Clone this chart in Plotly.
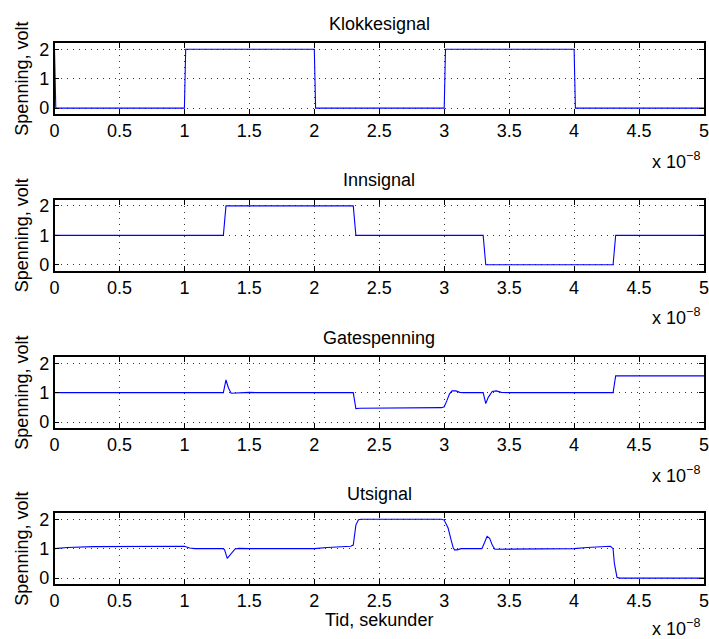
import plotly.graph_objects as go

# time axis in units of 1e-8 s
t_klokke = [0, 0.01, 1.0, 1.01, 2.0, 2.01, 3.0, 3.01, 4.0, 4.01, 5.0]
v_klokke = [2, 0, 0, 2, 2, 0, 0, 2, 2, 0, 0]

t_inn = [0, 1.30, 1.32, 2.30, 2.32, 3.30, 3.32, 4.30, 4.32, 5.0]
v_inn = [1, 1, 2, 2, 1, 1, 0, 0, 1, 1]

t_gate = [0, 1.0, 1.03, 1.07, 1.30, 1.32, 1.34, 1.36, 1.40, 1.45, 1.50, 1.55,
          2.30, 2.32, 2.35, 2.98, 3.00, 3.02, 3.04, 3.06, 3.09, 3.12, 3.15,
          3.30, 3.32, 3.34, 3.37, 3.40, 3.44, 3.50, 4.30, 4.32, 5.0]
v_gate = [1.0, 1.0, 1.02, 1.0, 1.0, 1.43, 1.15, 0.98, 0.99, 1.02, 1.01, 1.0,
          1.0, 0.46, 0.47, 0.49, 0.52, 0.72, 0.95, 1.06, 1.06, 1.01, 1.0,
          1.0, 0.63, 0.85, 1.04, 1.06, 1.01, 1.0, 1.0, 1.57, 1.57]

t_ut = [0, 0.1, 0.3, 0.6, 1.0, 1.04, 1.08, 1.30, 1.31, 1.33, 1.36, 1.39, 1.42, 1.5,
        2.0, 2.1, 2.28, 2.30, 2.32, 2.34, 2.36, 2.98, 3.00, 3.03, 3.05, 3.07, 3.08,
        3.10, 3.13, 3.29, 3.31, 3.33, 3.35, 3.37, 3.39, 3.42, 3.46, 4.0, 4.1, 4.28,
        4.30, 4.31, 4.33, 4.35, 5.0]
v_ut = [1.0, 1.04, 1.07, 1.08, 1.08, 1.02, 1.0, 1.0, 0.95, 0.67, 0.85, 0.99, 1.01, 1.0,
        1.0, 1.04, 1.08, 1.12, 1.8, 1.98, 2.0, 2.0, 1.97, 1.7, 1.35, 1.02, 0.96,
        0.96, 1.0, 1.0, 1.2, 1.42, 1.35, 1.12, 0.98, 0.98, 1.0, 1.0, 1.04, 1.08,
        1.0, 0.5, 0.03, 0.0, 0.0]

titles = ["Klokkesignal", "Innsignal", "Gatespenning", "Utsignal"]
x_ticks = [0, 0.5, 1, 1.5, 2, 2.5, 3, 3.5, 4, 4.5, 5]
y_ticks = [0, 1, 2]
y_label = "Spenning, volt"
x_label = "Tid, sekunder"
x_exp = "x 10<sup>−8</sup>"

series = [(t_klokke, v_klokke), (t_inn, v_inn), (t_gate, v_gate), (t_ut, v_ut)]

W, H = 709, 639
left_px, right_px = 54.5, 704
tops_px = [43.3, 200, 357.3, 513.3]
box_h = 70.7
FONT = "Liberation Sans, Arial, Helvetica, sans-serif"
FS = 18

fig = go.Figure()
annotations = []
for i, (t, v) in enumerate(series):
    sfx = "" if i == 0 else str(i + 1)
    fig.add_trace(go.Scatter(x=t, y=v, mode="lines",
                             line=dict(color="#0000ff", width=1.1),
                             xaxis="x" + sfx, yaxis="y" + sfx,
                             showlegend=False, hoverinfo="skip"))
    top = tops_px[i]
    bot = top + box_h
    axis_common = dict(showline=True, linecolor="black", linewidth=1.5, mirror="ticks",
                       ticks="inside", ticklen=5, tickcolor="black", tickwidth=1,
                       showgrid=True, gridcolor="#333333", gridwidth=1, griddash="1px,5px",
                       zeroline=False, ticklabeloverflow="allow", automargin=False,
                       tickfont=dict(family=FONT, size=FS, color="black"))
    fig.layout["xaxis" + sfx] = dict(domain=[left_px / W, right_px / W], anchor="y" + sfx,
                                     range=[0, 5], tickvals=x_ticks, **axis_common)
    fig.layout["yaxis" + sfx] = dict(domain=[1 - bot / H, 1 - top / H], anchor="x" + sfx,
                                     range=[-0.2, 2.2], tickvals=y_ticks, **axis_common)
    cx = (left_px + right_px) / 2 / W
    annotations.append(dict(text=titles[i], x=cx, y=1 - (top - 19.5) / H, xref="paper", yref="paper",
                            showarrow=False, xanchor="center", yanchor="middle",
                            font=dict(family=FONT, size=FS, color="black")))
    annotations.append(dict(text=y_label, x=22 / W, y=1 - (top + box_h / 2) / H, xref="paper",
                            yref="paper", showarrow=False, textangle=-90,
                            xanchor="center", yanchor="middle",
                            font=dict(family=FONT, size=FS, color="black")))
    off = 46 if i < 3 else 43
    annotations.append(dict(text=x_exp, x=702 / W, y=1 - (bot + off) / H, xref="paper", yref="paper",
                            showarrow=False, xanchor="right", yanchor="middle",
                            font=dict(family=FONT, size=FS, color="black")))

annotations.append(dict(text=x_label, x=(left_px + right_px) / 2 / W, y=1 - 620 / H,
                        xref="paper", yref="paper", showarrow=False,
                        xanchor="center", yanchor="middle",
                        font=dict(family=FONT, size=FS, color="black")))

fig.update_layout(width=W, height=H, autosize=False,
                  margin=dict(l=0, r=0, t=0, b=0, pad=0),
                  paper_bgcolor="white", plot_bgcolor="white",
                  annotations=annotations, font=dict(family=FONT, size=FS))

fig.write_html("out.html", config={"displayModeBar": False},
               post_script="document.body.style.margin='0px';document.body.style.overflow='hidden';")
